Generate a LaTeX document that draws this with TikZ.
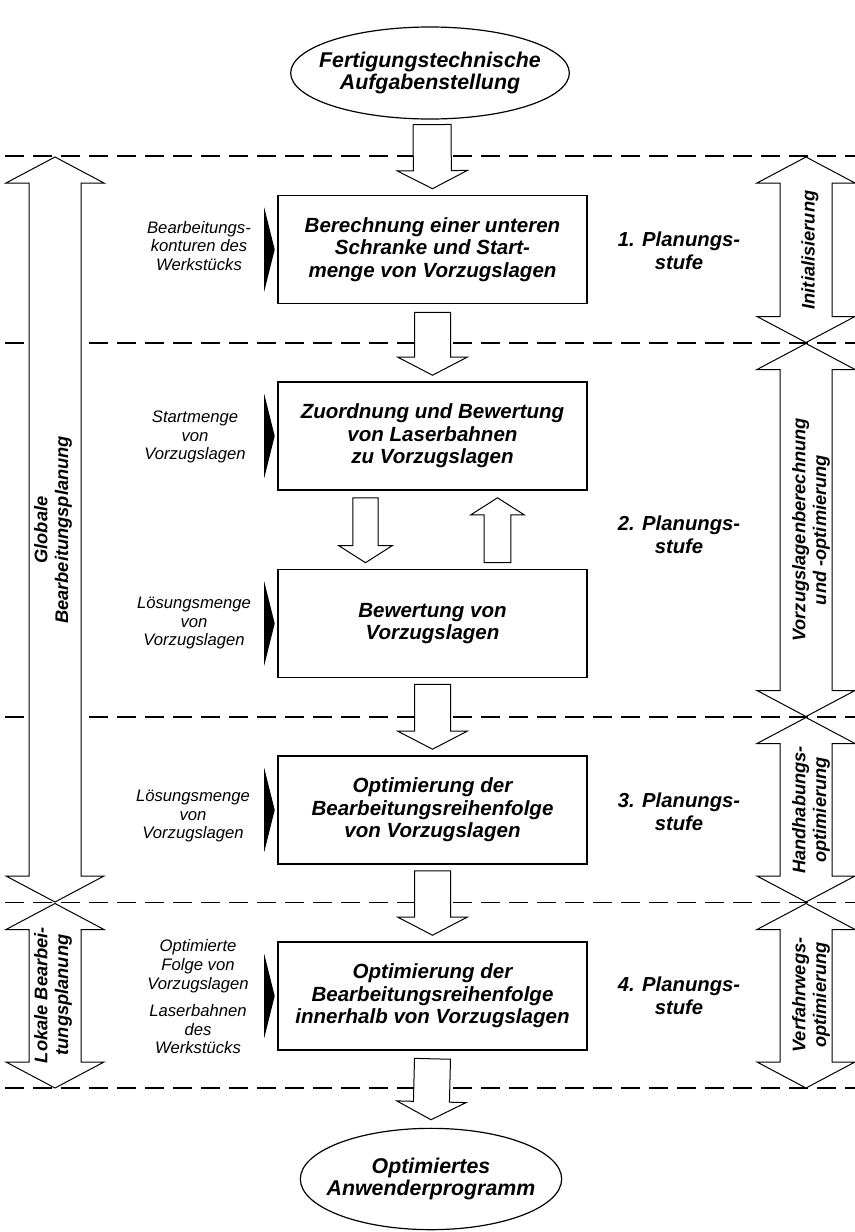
\documentclass[tikz,border=0pt]{standalone}
\usepackage{fontspec}
\setmainfont{Liberation Sans}
\usetikzlibrary{calc,shapes.geometric}

\newcommand\boxfont{\fontsize{15.4}{17}\selectfont\bfseries\itshape}
\newcommand\ellfont{\fontsize{16}{17}\selectfont\bfseries\itshape}
\newcommand\stagefont{\fontsize{15.2}{17.2}\selectfont\bfseries\itshape}
\newcommand\rotfont{\fontsize{13.7}{15.5}\selectfont\bfseries\itshape}
\newcommand\sidefont{\fontsize{12.5}{13.9}\selectfont\itshape}

% block arrow: #1 tail, #2 tip, #3 half shaft, #4 half head, #5 head length
\newcommand\BlkArrow[5]{%
  \path ($(#2)!#5!(#1)$) coordinate (bah);
  \draw[blkarrow] ($(#1)!#3!90:(#2)$) -- ($(bah)!#3!90:(#2)$) -- ($(bah)!#4!90:(#2)$)
    -- (#2) -- ($(bah)!#4!-90:(#2)$) -- ($(bah)!#3!-90:(#2)$) -- ($(#1)!#3!-90:(#2)$) -- cycle;
}
% double block arrow between tips #1 and #2
\newcommand\DblArrow[2]{%
  \path ($(#1)!19.5pt!(#2)$) coordinate (dah) ($(#2)!19.5pt!(#1)$) coordinate (dbh);
  \draw[blkarrow] (#1) -- ($(dah)!36.75pt!90:(#2)$) -- ($(dah)!19.5pt!90:(#2)$)
    -- ($(dbh)!19.5pt!90:(#2)$) -- ($(dbh)!36.75pt!90:(#2)$) -- (#2)
    -- ($(dbh)!36.75pt!-90:(#2)$) -- ($(dbh)!19.5pt!-90:(#2)$)
    -- ($(dah)!19.5pt!-90:(#2)$) -- ($(dah)!36.75pt!-90:(#2)$) -- cycle;
}
\newcommand\InTri[1]{%
  \fill ($(#1.west)+(-13,-42)$) -- ($(#1.west)+(-2.5,0)$) -- ($(#1.west)+(-13,42)$) -- cycle;
}

\begin{document}
\begin{tikzpicture}[x=0.75pt,y=-0.75pt,
  box/.style={draw, line width=1.2pt, minimum width=231.75pt, minimum height=81pt, inner sep=0pt, align=center, font=\boxfont},
  ell/.style={draw, ellipse, line width=0.9pt, inner sep=0pt},
  elltext/.style={align=center, font=\ellfont, inner sep=0pt},
  dashline/.style={line width=1.1pt, dash pattern=on 14.5pt off 6.5pt},
  blkarrow/.style={draw, fill=white, line width=0.75pt, line join=miter},
  side/.style={align=center, font=\sidefont, inner sep=0pt},
  stage/.style={align=center, font=\stagefont, inner sep=0pt},
  rot/.style={align=center, font=\rotfont, inner sep=0pt, rotate=90}]
\useasboundingbox (0,0) rectangle (855,1232);

% dashed separators
\foreach \yy in {156,343,717,902.5,1088}
  \draw[dashline] (5,\yy) -- (855,\yy);

% main nodes
\node[ell, minimum width=209pt, minimum height=69pt] (e1) at (430,73) {};
\node[elltext] (e1t) at (e1.center) {Fertigungstechnische\\Aufgabenstellung};
\node[box] (b1) at (432.5,249.5) {Berechnung einer unteren\\Schranke und Start-\\menge von Vorzugslagen};
\node[box] (b2) at (432.5,436) {Zuordnung und Bewertung\\von Laserbahnen\\zu Vorzugslagen};
\node[box] (b3) at (432.5,623.5) {Bewertung von\\Vorzugslagen};
\node[box] (b4) at (432.5,810) {Optimierung der\\Bearbeitungsreihenfolge\\von Vorzugslagen};
\node[box] (b5) at (432.5,996) {Optimierung der\\Bearbeitungsreihenfolge\\innerhalb von Vorzugslagen};
\node[ell, minimum width=196pt, minimum height=76pt] (e2) at (431,1179) {};
\node[elltext] (e2t) at (e2.center) {Optimiertes\\Anwenderprogramm};

% connector end points
\coordinate (c0s) at ($(e1.south)+(2,5)$);
\coordinate (c0e) at ($(b1.north)+(0,-6)$);
\coordinate (c1s) at ($(b1.south)+(0,8)$);
\coordinate (c1e) at ($(b2.north)+(0,-6)$);
\coordinate (cds) at ($(b2.south)+(-67,7)$);
\coordinate (cde) at ($(b3.north)+(-67,-6)$);
\coordinate (cus) at ($(b3.north)+(65,-6)$);
\coordinate (cue) at ($(b2.south)+(65,7)$);
\coordinate (c3s) at ($(b3.south)+(0,6)$);
\coordinate (c3e) at ($(b4.north)+(0,-6)$);
\coordinate (c4s) at ($(b4.south)+(0,6)$);
\coordinate (c4e) at ($(b5.north)+(0,-6)$);
\coordinate (c5s) at ($(b5.south)+(0,8)$);
\coordinate (c5e) at ($(e2.north)+(0,-8)$);

\BlkArrow{c0s}{c0e}{14.25pt}{26.25pt}{13.5pt}
\BlkArrow{c1s}{c1e}{13.5pt}{26pt}{13.5pt}
\BlkArrow{cds}{cde}{9.5pt}{20pt}{12.75pt}
\BlkArrow{cus}{cue}{10pt}{20pt}{12.75pt}
\BlkArrow{c3s}{c3e}{13.5pt}{26pt}{13.5pt}
\BlkArrow{c4s}{c4e}{13.5pt}{26pt}{13.5pt}
\BlkArrow{c5s}{c5e}{13.5pt}{26pt}{13.5pt}

% range arrows
\coordinate (gt) at (55,157);   \coordinate (gb) at (55,902);
\coordinate (lt) at (55,903.5); \coordinate (lb) at (55,1088);
\coordinate (r1t) at (806,157);   \coordinate (r1b) at (806,342.5);
\coordinate (r2t) at (806,343.5); \coordinate (r2b) at (806,716.5);
\coordinate (r3t) at (806,717.5); \coordinate (r3b) at (806,902);
\coordinate (r4t) at (806,903.5); \coordinate (r4b) at (806,1088);
\DblArrow{gt}{gb}
\DblArrow{lt}{lb}
\DblArrow{r1t}{r1b}
\DblArrow{r2t}{r2b}
\DblArrow{r3t}{r3b}
\DblArrow{r4t}{r4b}

\node[rot] (tg) at (53,530) {Globale\\Bearbeitungsplanung};
\node[rot] (tl) at (53,995) {Lokale Bearbei-\\tungsplanung};
\node[rot] (tr1) at (810,250) {Initialisierung};
\node[rot] (tr2) at (811,530) {Vorzugslagenberechnung\\und -optimierung};
\node[rot] (tr3) at (811,810) {Handhabungs-\\optimierung};
\node[rot] (tr4) at (811,995) {Verfahrwegs-\\optimierung};

% stage labels
\node[stage] (s1) at (679,251) {1. Planungs-\\stufe};
\node[stage] (s2) at (679,535) {2. Planungs-\\stufe};
\node[stage] (s3) at (679,812) {3. Planungs-\\stufe};
\node[stage] (s4) at (679,996) {4. Planungs-\\stufe};

% input labels and markers
\node[side] (i1) at (199,246) {Bearbeitungs-\\konturen des\\Werkstücks};
\node[side] (i2) at (195,437) {Startmenge\\von\\Vorzugslagen};
\node[side] (i3) at (194,623) {Lösungsmenge\\von\\Vorzugslagen};
\node[side] (i4) at (193,816) {Lösungsmenge\\von\\Vorzugslagen};
\node[side] (i5) at (198,997) {Optimierte\\Folge von\\Vorzugslagen\\[7pt]Laserbahnen\\des\\Werkstücks};
\InTri{b1}
\InTri{b2}
\InTri{b3}
\InTri{b4}
\InTri{b5}
\end{tikzpicture}
\end{document}
